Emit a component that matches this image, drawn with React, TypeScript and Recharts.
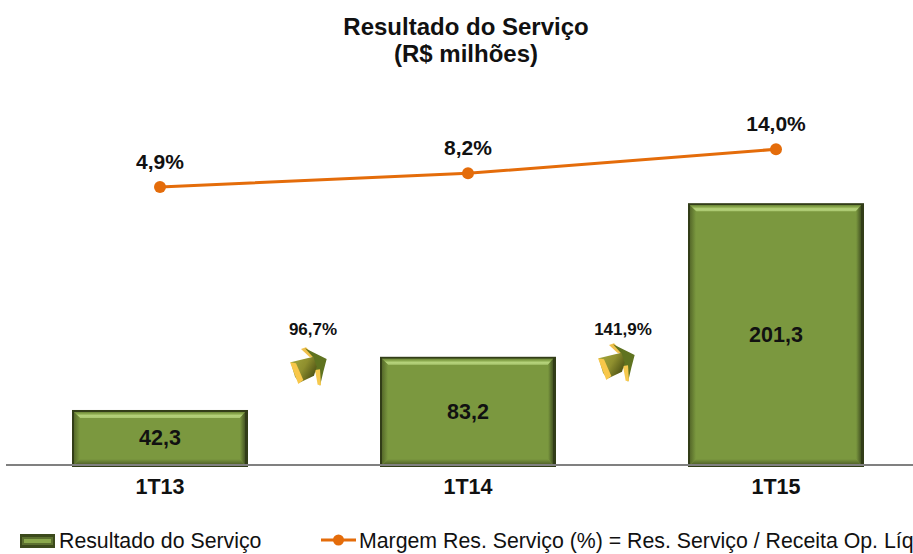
import React from "react";
import { ComposedChart, Bar, Line, XAxis, YAxis, LabelList, Legend, ReferenceLine } from "recharts";

const categories = ["1T13", "1T14", "1T15"];
const resultado = [42.3, 83.2, 201.3];
const margem = [4.9, 8.2, 14.0];
const growthLabels = ["96,7%", "141,9%"];
const titleLines = ["Resultado do Serviço", "(R$ milhões)"];
const barName = "Resultado do Serviço";
const lineName = "Margem Res. Serviço (%) = Res. Serviço / Receita Op. Líq";

const rows = categories.map((c, i) => ({ c, resultado: resultado[i], margem: margem[i] }));
const FONT = "'Liberation Sans', Arial, sans-serif";
const comma = (v: number) => v.toFixed(1).replace(".", ",");

function BevelBar(props: any) {
  const { x, y, width, height } = props;
  const r = x + width;
  const bt = y + height + 2;
  const o = 2;
  const b = 8;
  return (
    <g>
      <rect x={x} y={y} width={width} height={bt - y} fill="#323d18" />
      <rect x={x + o} y={y + o} width={width - 2 * o - 1} height={bt - y - 2 * o} fill="#7b983f" />
      <polygon points={`${x + o},${y + o} ${r - o - 1},${y + o} ${r - b},${y + b} ${x + b},${y + b}`} fill="url(#bevelTop)" />
      <polygon points={`${x + o},${y + o} ${x + b},${y + b} ${x + b},${bt - b} ${x + o},${bt - o}`} fill="url(#bevelLeft)" />
      <polygon points={`${r - o - 1},${y + o} ${r - b},${y + b} ${r - b},${bt - b} ${r - o - 1},${bt - o}`} fill="url(#bevelRight)" />
      <polygon points={`${x + o},${bt - o} ${x + b},${bt - b} ${r - b},${bt - b} ${r - o - 1},${bt - o}`} fill="url(#bevelBottom)" />
    </g>
  );
}

function Arrow({ dx, dy }: { dx: number; dy: number }) {
  const pts = (p: number[][]) => p.map(([a, b]) => `${270 + dx + a / 3},${310 + dy + b / 3}`).join(" ");
  return (
    <g>
      <polygon points={pts([[93, 117], [108, 112], [140, 145], [118, 140]])} fill="#f0c04c" />
      <polygon points={pts([[105, 115], [170, 147], [160, 185], [150, 228], [135, 180], [128, 140]])} fill="#5f7320" />
      <polygon points={pts([[135, 180], [150, 178], [153, 226], [143, 224]])} fill="#f6c94e" />
      <polygon points={pts([[62, 157], [130, 140], [140, 170], [132, 197], [88, 218], [75, 200]])} fill="url(#arrowBody)" />
      <polygon points={pts([[60, 157], [78, 160], [100, 210], [85, 222]])} fill="#f8c74a" />
    </g>
  );
}

function LegendContent() {
  return (
    <div style={{ position: "relative", width: 913, height: 30, fontFamily: FONT, fontSize: 21.3, color: "#111", whiteSpace: "nowrap" }}>
      <svg width={36} height={16} style={{ position: "absolute", left: 20, top: 8 }}>
        <rect x={0} y={1} width={35} height={14} fill="#3c4a1c" />
        <rect x={2} y={4} width={31} height={8} fill="#5c7030" />
        <rect x={4} y={6} width={27} height={4} fill="#8aa84c" />
      </svg>
      <span style={{ position: "absolute", left: 59, top: 4 }}>{barName}</span>
      <svg width={36} height={16} style={{ position: "absolute", left: 321, top: 7 }}>
        <line x1={0} x2={35} y1={8} y2={8} stroke="#e46c0a" strokeWidth={3} />
        <circle cx={17.5} cy={8} r={5.5} fill="#e46c0a" />
      </svg>
      <span style={{ position: "absolute", left: 359, top: 4 }}>{lineName}</span>
    </div>
  );
}

export default function App() {
  return (
    <div style={{ position: "absolute", left: 0, top: 0, width: 913, height: 554, overflow: "hidden", background: "#fff" }}>
      <svg width={0} height={0} style={{ position: "absolute" }}>
        <defs>
          <linearGradient id="bevelTop" x1="0" y1="0" x2="0" y2="1">
            <stop offset="0" stopColor="#6d8836" />
            <stop offset="0.35" stopColor="#8fae52" />
            <stop offset="0.6" stopColor="#b5d27b" />
            <stop offset="1" stopColor="#a9c76f" />
          </linearGradient>
          <linearGradient id="bevelLeft" x1="0" y1="0" x2="1" y2="0">
            <stop offset="0" stopColor="#566a2a" />
            <stop offset="1" stopColor="#7b983f" />
          </linearGradient>
          <linearGradient id="bevelRight" x1="0" y1="0" x2="1" y2="0">
            <stop offset="0" stopColor="#7b983f" />
            <stop offset="1" stopColor="#465624" />
          </linearGradient>
          <linearGradient id="bevelBottom" x1="0" y1="0" x2="0" y2="1">
            <stop offset="0" stopColor="#7b983f" />
            <stop offset="1" stopColor="#4c5c26" />
          </linearGradient>
          <linearGradient id="arrowBody" x1="0" y1="0" x2="1" y2="0.6">
            <stop offset="0" stopColor="#a3a83e" />
            <stop offset="0.55" stopColor="#8f8f2e" />
            <stop offset="1" stopColor="#4d5214" />
          </linearGradient>
        </defs>
      </svg>
      <div style={{ position: "absolute", left: 0, top: 0 }}>
        <ComposedChart
          width={940}
          height={554}
          data={rows}
          margin={{ top: 80, right: 10, bottom: 29, left: 6 }}
        >
          <XAxis
            dataKey="c"
            height={30}
            axisLine={{ stroke: "#808080", strokeWidth: 2 }}
            tickLine={false}
            tickMargin={8}
            tick={{ fontFamily: FONT, fontSize: 21.5, fontWeight: 700, fill: "#111" }}
          />
          <YAxis yAxisId="bars" hide domain={[0, 296]} />
          <YAxis yAxisId="pct" hide orientation="right" domain={[-62.1, 30.7]} />
          <Legend
            height={30}
            verticalAlign="bottom"
            content={<LegendContent />}
            wrapperStyle={{ left: 0, top: 525, bottom: "auto", width: 913 }}
          />
          <Bar yAxisId="bars" dataKey="resultado" barSize={176} shape={<BevelBar />} isAnimationActive={false}>
            <LabelList
              dataKey="resultado"
              position="center"
              formatter={(v: number) => comma(v)}
              style={{ fontFamily: FONT, fontSize: 21.5, fontWeight: 700, fill: "#111" }}
            />
          </Bar>
          <ReferenceLine yAxisId="bars" y={0} stroke="#808080" strokeWidth={2} />
          <Line
            yAxisId="pct"
            dataKey="margem"
            stroke="#e46c0a"
            strokeWidth={3}
            dot={{ r: 6, fill: "#e46c0a", stroke: "#e46c0a", strokeWidth: 0 }}
            isAnimationActive={false}
          >
            <LabelList
              dataKey="margem"
              position="top"
              offset={18}
              formatter={(v: number) => `${comma(v)}%`}
              style={{ fontFamily: FONT, fontSize: 21, fontWeight: 700, fill: "#111" }}
            />
          </Line>
        </ComposedChart>
      </div>
      <svg width={913} height={554} style={{ position: "absolute", left: 0, top: 0, pointerEvents: "none" }}>
        <g fontFamily={FONT} fontWeight={700} textAnchor="middle" fill="#111">
          <text x={466} y={35} fontSize={24}>{titleLines[0]}</text>
          <text x={466} y={62} fontSize={24}>{titleLines[1]}</text>
          <text x={313} y={335} fontSize={17}>{growthLabels[0]}</text>
          <text x={623} y={335} fontSize={17}>{growthLabels[1]}</text>
        </g>
        <Arrow dx={0} dy={0} />
        <Arrow dx={308} dy={-4} />
      </svg>
    </div>
  );
}
